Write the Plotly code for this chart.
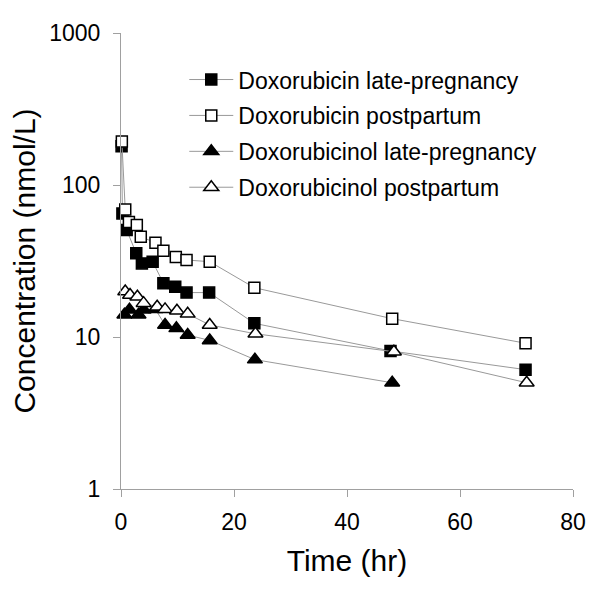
import plotly.graph_objects as go

# Doxorubicin, late pregnancy (filled squares)
t_dox_lp = [0.1, 0.25, 1.0, 2.7, 3.7, 5.6, 7.5, 9.6, 11.6, 15.6, 23.6, 47.7, 71.6]
c_dox_lp = [180, 65, 50.6, 35.5, 30.5, 31.3, 22.6, 21.4, 19.6, 19.6, 12.3, 8.1, 6.1]

# Doxorubicin, postpartum (open squares)
t_dox_pp = [0.15, 0.75, 1.4, 2.8, 3.5, 6.1, 7.5, 9.7, 11.6, 15.7, 23.6, 48.0, 71.6]
c_dox_pp = [193, 69, 57, 54.6, 45.7, 41.7, 37, 33.6, 32.1, 31.3, 21.1, 13.2, 9.1]

# Doxorubicinol, late pregnancy (filled triangles)
t_dol_lp = [0.6, 1.5, 3.1, 4.0, 6.1, 7.8, 9.8, 11.8, 15.7, 23.7, 48.0]
c_dol_lp = [14.0, 15.1, 14.0, 15.1, 15.2, 12.0, 11.4, 10.3, 9.5, 7.1, 5.0]

# Doxorubicinol, postpartum (open triangles)
t_dol_pp = [0.75, 1.6, 2.9, 4.0, 6.4, 7.8, 9.9, 11.8, 15.7, 23.8, 48.3, 71.8]
c_dol_pp = [19.9, 18.9, 18.4, 16.7, 15.8, 15.2, 14.9, 14.2, 12.0, 10.5, 8.0, 5.0]

x_ticks = [0, 20, 40, 60, 80]
y_ticks = [1, 10, 100, 1000]

series = [
    ("Doxorubicin late-pregnancy", t_dox_lp, c_dox_lp, "square", "black", 11),
    ("Doxorubicin postpartum", t_dox_pp, c_dox_pp, "square", "white", 11),
    ("Doxorubicinol late-pregnancy", t_dol_lp, c_dol_lp, "triangle-up", "black", 13),
    ("Doxorubicinol postpartum", t_dol_pp, c_dol_pp, "triangle-up", "white", 13),
]

fig = go.Figure()
for i, (name, t, c, sym, fill, size) in enumerate(series):
    fig.add_trace(go.Scatter(
        x=t, y=c, name=name, mode="lines+markers",
        legendgroup=str(i),
        line=dict(color="#999999", width=1),
        marker=dict(symbol=sym, size=size, color=fill,
                    line=dict(color="black", width=1.5)),
        cliponaxis=False,
    ))

axis_common = dict(
    showline=True, linecolor="#a0a0a0", linewidth=1,
    ticks="outside", tickcolor="#a0a0a0", ticklen=7,
    showgrid=False, zeroline=False, automargin=False,
    tickfont=dict(size=23, color="black"),
)

fig.update_xaxes(range=[0, 80], tickvals=x_ticks, ticktext=[str(v) for v in x_ticks],
                 ticklabelstandoff=5,
                 title=dict(text="Time (hr)", font=dict(size=30, color="black"), standoff=16),
                 **axis_common)
fig.update_yaxes(type="log", range=[0, 3], tickvals=y_ticks, ticktext=[str(v) for v in y_ticks],
                 ticklabelstandoff=8,
                 title=dict(text="Concentration (nmol/L)", font=dict(size=30, color="black"), standoff=12),
                 **axis_common)

# page body adds an 8px offset, so margins are shifted to keep the plot area in place
fig.update_layout(
    width=601, height=593,
    margin=dict(l=113, r=36, t=25, b=112),
    paper_bgcolor="white", plot_bgcolor="white",
    font=dict(family="Liberation Sans, Arial, sans-serif", color="black"),
    legend=dict(x=0.14, y=0.945, xanchor="left", yanchor="top",
                font=dict(size=23), tracegroupgap=3, itemwidth=44,
                traceorder="grouped", bgcolor="rgba(0,0,0,0)"),
)

fig.write_html("out.html")
